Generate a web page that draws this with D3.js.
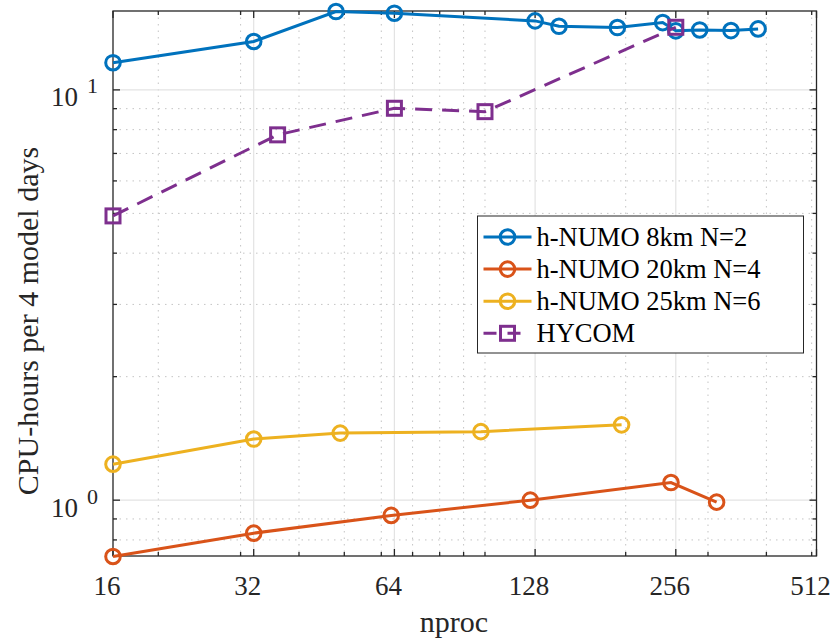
<!DOCTYPE html>
<html>
<head>
<meta charset="utf-8">
<script src="https://cdn.jsdelivr.net/npm/d3@7"></script>
<style>
  body { margin: 0; background: #fff; }
  svg { display: block; font-family: "Liberation Serif", "Times New Roman", serif; }
</style>
</head>
<body>
<svg width="834" height="641"></svg>
<script>
// chart data
const nproc8km  = [16, 32, 48, 64, 128, 144, 192, 240, 256, 288, 336, 384];
const cpu8km    = [11.65, 13.12, 15.52, 15.38, 14.73, 14.29, 14.19, 14.59, 13.93, 14.0, 13.95, 14.08];
const nproc20km = [16, 32, 63, 125, 250, 313];
const cpu20km   = [0.729, 0.831, 0.918, 1.0, 1.104, 0.989];
const nproc25km = [16, 32, 49, 98, 196];
const cpu25km   = [1.224, 1.409, 1.457, 1.469, 1.526];
const nprocHycom = [16, 36, 64, 100, 256];
const cpuHycom   = [4.93, 7.77, 9.02, 8.85, 14.21];

const seriesNames = ['h-NUMO 8km N=2', 'h-NUMO 20km N=4', 'h-NUMO 25km N=6', 'HYCOM'];

const xMajor = [16, 32, 64, 128, 256, 512];
const xMinor = [20, 30, 40, 50, 60, 70, 80, 90, 100, 200, 300, 400, 500];
const yMajor = [1, 10];
const yMajorExp = ['0', '1'];
const yMinor = [0.8, 0.9, 2, 3, 4, 5, 6, 7, 8, 9];

const svg = d3.select('svg'),
      pLeft = 113, pRight = 816.5, pTop = 11, pBottom = 556,
      ink = '#262626';

const x = d3.scaleLog().base(2).domain([16, 512]).range([pLeft, pRight]);
const y = d3.scaleLog().domain([0.731, 15.57]).range([pBottom, pTop]);

const series = [
  {name: seriesNames[0], xs: nproc8km,  ys: cpu8km,   color: '#0072BD', marker: 'circle', dash: null},
  {name: seriesNames[1], xs: nproc20km, ys: cpu20km,  color: '#D95319', marker: 'circle', dash: null},
  {name: seriesNames[2], xs: nproc25km, ys: cpu25km,  color: '#EDB120', marker: 'circle', dash: null},
  {name: seriesNames[3], xs: nprocHycom, ys: cpuHycom, color: '#7E2F8E', marker: 'square', dash: '17,10'}
];

// grid
const grid = svg.append('g');
grid.selectAll('.xmin').data(xMinor).enter().append('line')
  .attr('x1', d => x(d)).attr('x2', d => x(d)).attr('y1', pTop).attr('y2', pBottom)
  .attr('stroke', '#c4c4c4').attr('stroke-width', 1).attr('stroke-dasharray', '1.5,5');
grid.selectAll('.ymin').data(yMinor).enter().append('line')
  .attr('x1', pLeft).attr('x2', pRight).attr('y1', d => y(d)).attr('y2', d => y(d))
  .attr('stroke', '#c4c4c4').attr('stroke-width', 1).attr('stroke-dasharray', '1.5,5');
grid.selectAll('.xmaj').data(xMajor.slice(1, -1)).enter().append('line')
  .attr('x1', d => x(d)).attr('x2', d => x(d)).attr('y1', pTop).attr('y2', pBottom)
  .attr('stroke', '#e3e3e3').attr('stroke-width', 1.2);
grid.selectAll('.ymaj').data(yMajor).enter().append('line')
  .attr('x1', pLeft).attr('x2', pRight).attr('y1', d => y(d)).attr('y2', d => y(d))
  .attr('stroke', '#e3e3e3').attr('stroke-width', 1.2);

// axes box + inward ticks
const ax = svg.append('g').attr('stroke', ink).attr('stroke-width', 1.3);
const tickX = (vals, len) => vals.forEach(v => {
  ax.append('line').attr('x1', x(v)).attr('x2', x(v)).attr('y1', pBottom).attr('y2', pBottom - len);
  ax.append('line').attr('x1', x(v)).attr('x2', x(v)).attr('y1', pTop).attr('y2', pTop + len);
});
const tickY = (vals, len) => vals.forEach(v => {
  ax.append('line').attr('y1', y(v)).attr('y2', y(v)).attr('x1', pLeft).attr('x2', pLeft + len);
  ax.append('line').attr('y1', y(v)).attr('y2', y(v)).attr('x1', pRight).attr('x2', pRight - len);
});
tickX(xMajor, 7); tickX(xMinor, 4);
tickY(yMajor, 7); tickY(yMinor, 4);
ax.append('rect').attr('x', pLeft).attr('y', pTop).attr('width', pRight - pLeft).attr('height', pBottom - pTop)
  .attr('fill', 'none');

// tick labels
svg.append('g').selectAll('text').data(xMajor).enter().append('text')
  .attr('x', d => x(d) - 6).attr('y', 595)
  .attr('text-anchor', 'middle').attr('font-size', 27).attr('fill', ink)
  .text(d => d);

const yl = svg.append('g').selectAll('text').data(yMajor).enter().append('text')
  .attr('x', 51).attr('y', d => y(d) + 16.5)
  .attr('font-size', 27).attr('fill', ink);
yl.append('tspan').text('10');
yl.append('tspan').attr('dx', 9).attr('dy', -13).attr('font-size', 22)
  .text((d, i) => yMajorExp[i]);

// axis titles
svg.append('text').attr('x', 454).attr('y', 632).attr('text-anchor', 'middle')
  .attr('font-size', 30).attr('fill', ink).text('nproc');
svg.append('text').attr('transform', 'translate(38,321) rotate(-90)').attr('text-anchor', 'middle')
  .attr('font-size', 30).attr('fill', ink).text('CPU-hours per 4 model days');

// series
const line = d3.line().x(d => x(d[0])).y(d => y(d[1]));
const drawMarker = (g, s, cx, cy) => {
  if (s.marker === 'circle') {
    g.append('circle').attr('cx', cx).attr('cy', cy).attr('r', 7.3)
      .attr('fill', 'none').attr('stroke', s.color).attr('stroke-width', 3);
  } else {
    g.append('rect').attr('x', cx - 7).attr('y', cy - 7).attr('width', 14).attr('height', 14)
      .attr('fill', 'none').attr('stroke', s.color).attr('stroke-width', 3);
  }
};

series.forEach(s => {
  const pts = s.xs.map((v, i) => [v, s.ys[i]]);
  const g = svg.append('g');
  g.append('path').attr('d', line(pts)).attr('fill', 'none')
    .attr('stroke', s.color).attr('stroke-width', 3)
    .attr('stroke-dasharray', s.dash);
  pts.forEach(p => drawMarker(g, s, x(p[0]), y(p[1])));
});

// legend
const lg = svg.append('g');
lg.append('rect').attr('x', 477.5).attr('y', 216).attr('width', 326).attr('height', 137)
  .attr('fill', '#fff').attr('stroke', ink).attr('stroke-width', 1);
series.forEach((s, i) => {
  const base = 246 + i * 32.1, ly = base - 9;
  lg.append('line').attr('x1', 483.5).attr('x2', 531.5).attr('y1', ly).attr('y2', ly)
    .attr('stroke', s.color).attr('stroke-width', 3)
    .attr('stroke-dasharray', s.dash ? '13,11' : null);
  drawMarker(lg, s, 507.5, ly);
  lg.append('text').attr('x', 536.5).attr('y', base).attr('font-size', 26.5).attr('fill', '#000')
    .text(s.name);
});
</script>
</body>
</html>
